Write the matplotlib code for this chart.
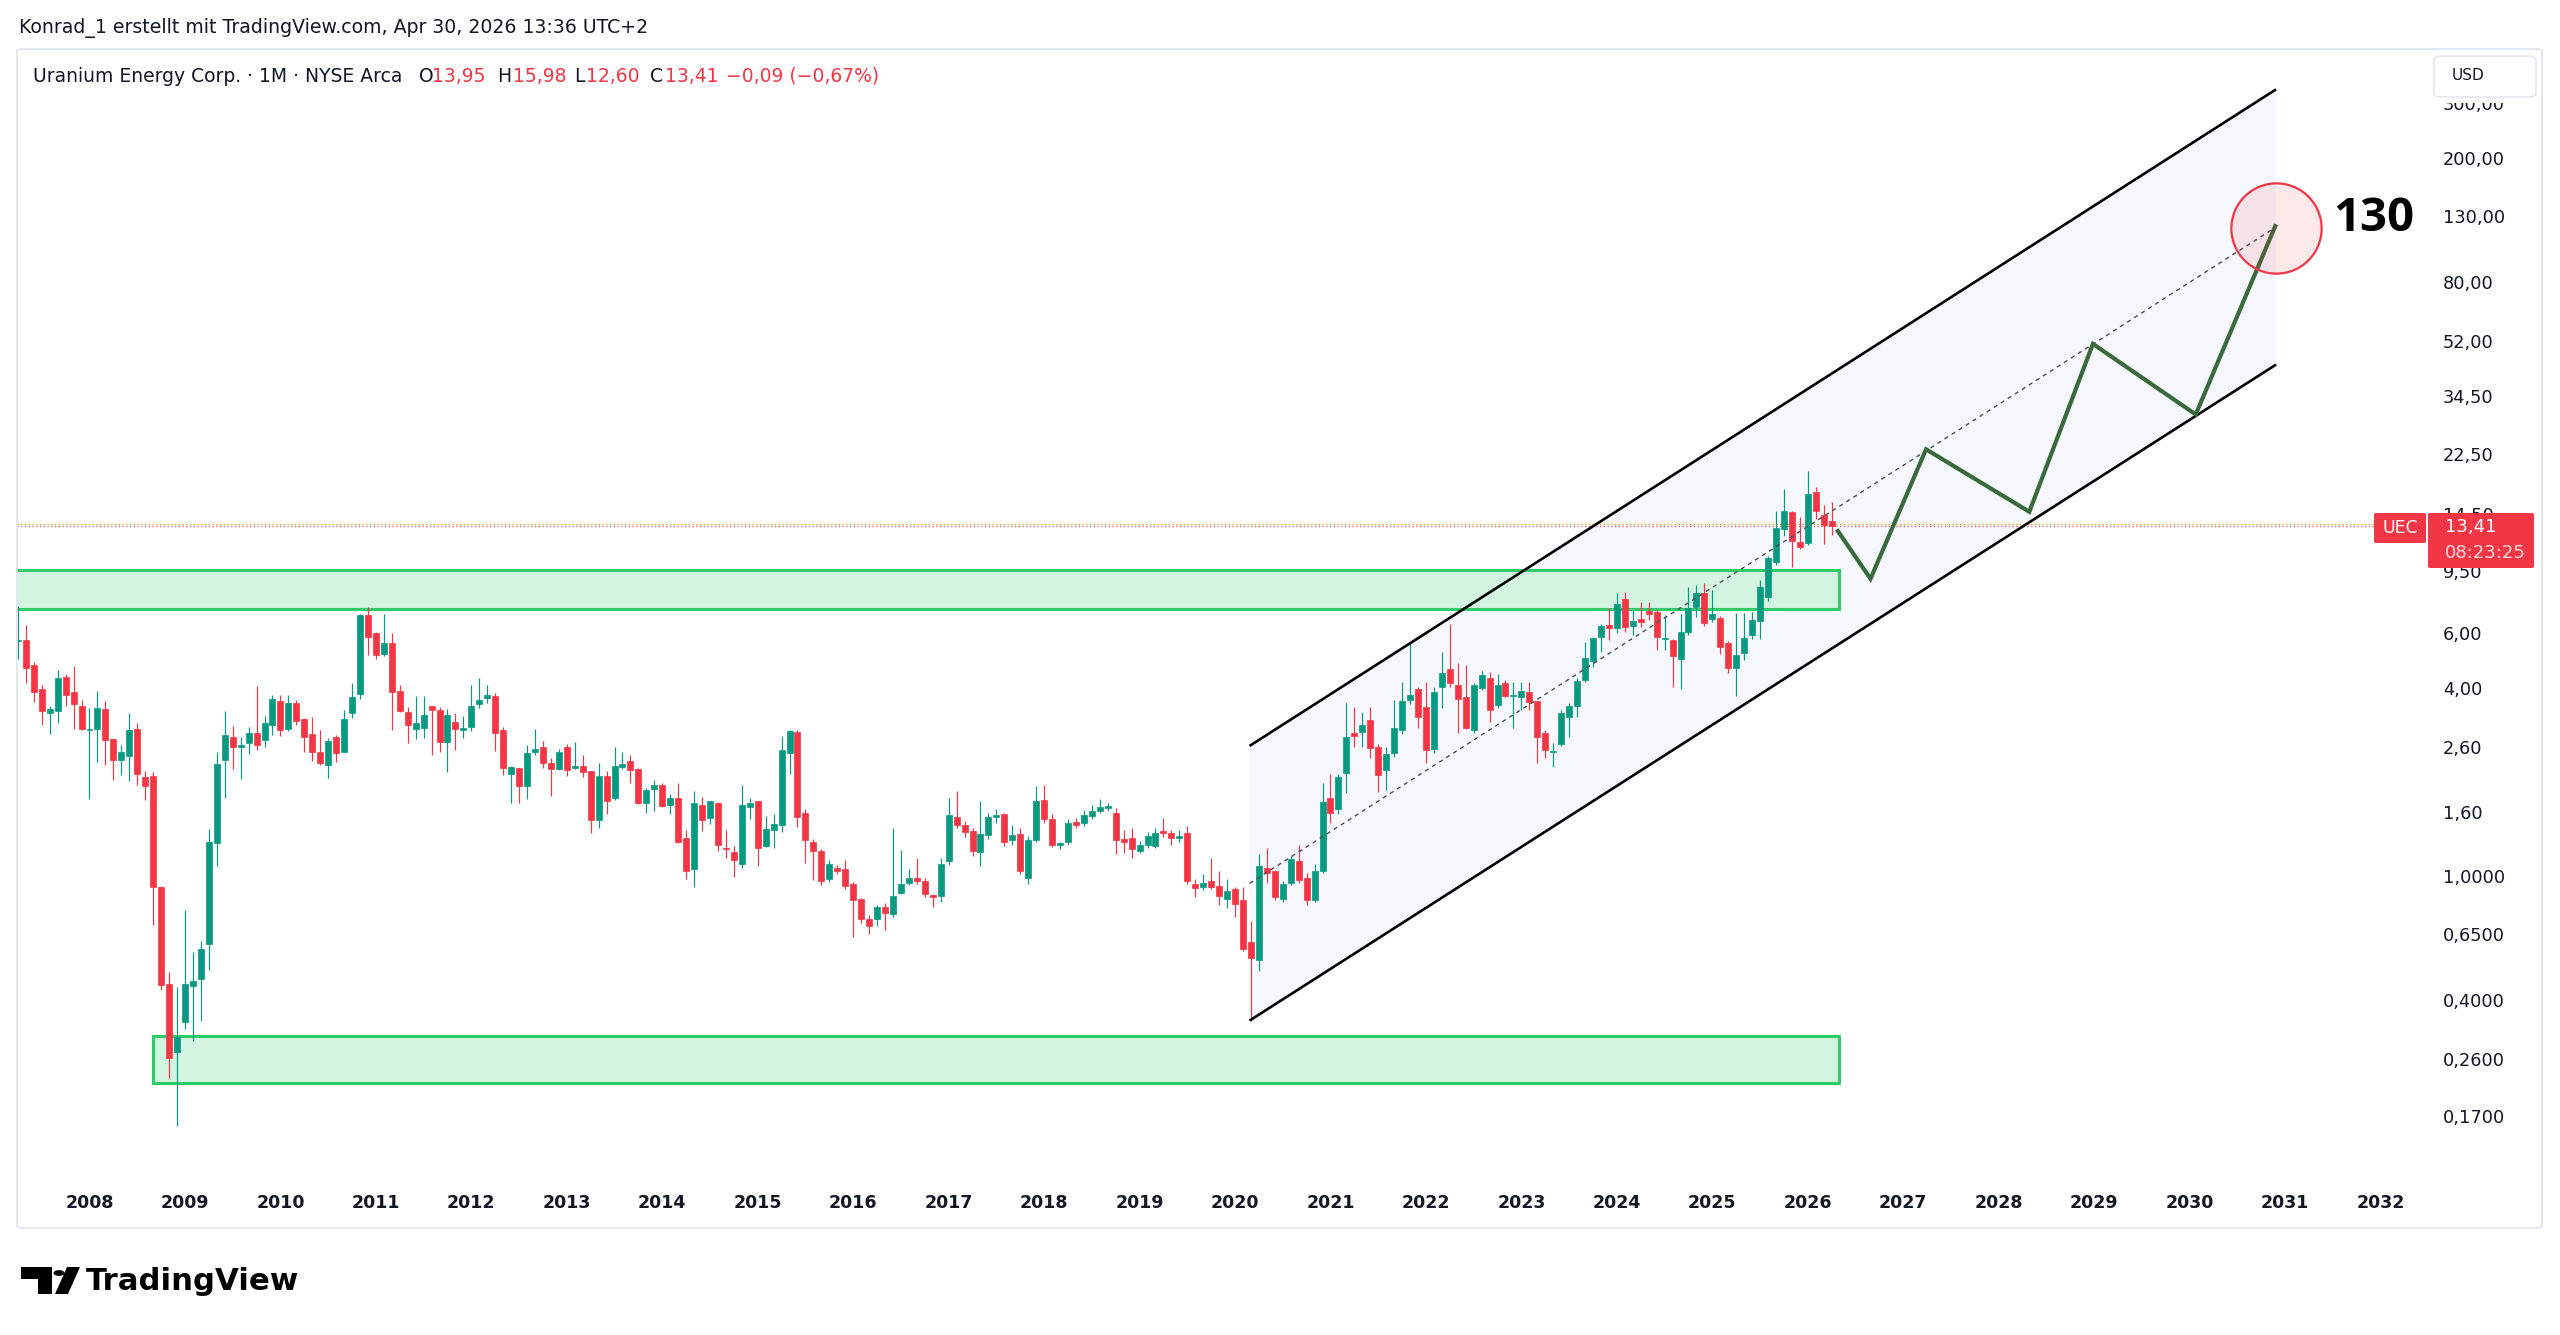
import numpy as np
import matplotlib
matplotlib.use("Agg")
import matplotlib.pyplot as plt
from matplotlib.patches import FancyBboxPatch, Rectangle, Circle, Polygon
from matplotlib.transforms import blended_transform_factory

plt.rcParams['font.family'] = ['DejaVu Sans']

# ---------------- data (monthly candles, first bar = Apr 2007) ----------------
first_month = (2007, 4)
open_ = [5.76, 5.79, 4.81, 4.04, 3.37, 3.42, 4.41, 3.94, 3.56, 2.98,
         3.00, 3.47, 2.78, 2.39, 2.46, 3.01, 2.11, 2.13, 0.934, 0.457,
         0.276, 0.345, 0.452, 0.475, 0.615, 1.29, 2.39, 2.83, 2.63, 2.71,
         2.91, 2.77, 3.10, 3.69, 3.00, 3.65, 3.23, 2.89, 2.53, 2.31,
         2.83, 2.54, 3.38, 3.89, 6.96, 6.08, 5.21, 5.65, 3.97, 3.41,
         3.01, 3.03, 3.55, 3.45, 2.72, 3.17, 2.99, 3.04, 3.60, 3.77,
         3.83, 2.98, 2.15, 2.25, 1.97, 2.54, 2.63, 2.33, 2.23, 2.63,
         2.26, 2.29, 2.20, 1.53, 2.12, 1.80, 2.27, 2.37, 2.23, 1.74,
         1.93, 1.98, 1.71, 1.80, 1.34, 1.07, 1.71, 1.56, 1.74, 1.25,
         1.21, 1.11, 1.69, 1.76, 1.27, 1.43, 1.48, 2.51, 2.94, 1.61,
         1.30, 1.22, 0.995, 1.08, 1.07, 0.955, 0.854, 0.74, 0.739, 0.805,
         0.765, 0.897, 0.966, 1.00, 0.98, 0.882, 0.877, 1.13, 1.57, 1.48,
         1.41, 1.21, 1.37, 1.57, 1.60, 1.32, 1.38, 1.00, 1.32, 1.78,
         1.55, 1.28, 1.30, 1.51, 1.50, 1.58, 1.64, 1.68, 1.61, 1.33,
         1.34, 1.22, 1.28, 1.27, 1.41, 1.39, 1.34, 1.39, 0.96, 0.938,
         0.978, 0.943, 0.856, 0.92, 0.85, 0.625, 0.546, 1.08, 1.05, 0.856,
         0.966, 1.13, 1.00, 0.85, 1.05, 1.80, 1.66, 2.17, 2.91, 2.94,
         3.21, 2.63, 2.22, 2.51, 2.97, 3.72, 4.03, 3.53, 2.59, 4.10,
         4.67, 4.16, 3.79, 2.98, 4.06, 4.37, 3.59, 4.22, 3.84, 3.81,
         3.96, 3.68, 2.92, 2.54, 2.69, 3.28, 3.56, 4.31, 4.96, 5.91,
         6.47, 6.31, 7.82, 6.42, 6.74, 7.19, 7.10, 5.84, 5.79, 5.02,
         6.13, 7.41, 8.19, 6.77, 6.79, 5.65, 4.72, 5.25, 6.00, 6.68,
         7.98, 10.28, 13.13, 14.85, 11.96, 11.83, 17.22, 14.56, 13.95]
high_ = [7.44, 6.47, 4.91, 4.16, 3.56, 4.64, 4.51, 4.78, 3.71, 3.50,
         3.97, 3.69, 2.78, 2.67, 3.38, 3.14, 2.20, 2.18, 0.94, 0.498,
         0.448, 0.788, 0.578, 0.629, 1.44, 2.54, 3.42, 3.08, 2.83, 3.04,
         4.13, 3.30, 3.86, 3.86, 3.86, 3.72, 3.25, 3.27, 2.98, 2.80,
         2.87, 3.46, 4.21, 7.00, 7.41, 6.16, 7.00, 6.12, 4.17, 3.54,
         3.83, 3.83, 3.57, 3.53, 3.49, 3.38, 3.30, 4.17, 4.39, 4.16,
         3.93, 3.04, 2.28, 2.26, 2.67, 3.00, 2.75, 2.42, 2.59, 2.69,
         2.73, 2.47, 2.21, 2.33, 2.20, 2.63, 2.53, 2.47, 2.25, 1.94,
         2.06, 2.01, 1.86, 2.01, 1.42, 1.90, 1.82, 1.77, 1.75, 1.42,
         1.27, 1.98, 1.81, 1.77, 1.58, 1.60, 2.86, 2.97, 2.98, 1.67,
         1.33, 1.24, 1.14, 1.10, 1.14, 0.97, 0.86, 0.76, 0.82, 0.83,
         1.45, 1.23, 1.07, 1.16, 1.00, 0.89, 1.16, 1.80, 1.90, 1.52,
         1.45, 1.76, 1.62, 1.66, 1.62, 1.48, 1.45, 1.36, 1.97, 1.99,
         1.60, 1.30, 1.55, 1.56, 1.65, 1.72, 1.79, 1.74, 1.68, 1.42,
         1.45, 1.31, 1.40, 1.45, 1.56, 1.42, 1.42, 1.47, 0.99, 1.03,
         1.16, 1.05, 0.99, 0.933, 0.935, 0.73, 1.19, 1.25, 1.06, 0.98,
         1.18, 1.28, 1.04, 1.11, 2.01, 2.15, 2.15, 3.65, 3.54, 3.41,
         3.54, 2.69, 2.63, 3.72, 4.26, 5.72, 4.10, 4.26, 4.09, 5.31,
         6.54, 4.88, 4.82, 4.21, 4.61, 4.58, 4.51, 4.31, 4.26, 4.26,
         4.26, 3.70, 2.98, 2.70, 3.46, 3.63, 4.37, 5.72, 5.93, 6.52,
         7.33, 8.19, 8.26, 7.23, 7.68, 7.64, 7.30, 6.97, 5.85, 7.00,
         8.58, 8.70, 8.84, 8.37, 6.90, 5.76, 7.08, 7.05, 7.10, 9.02,
         10.8, 14.97, 17.6, 15.0, 14.34, 20.15, 17.96, 15.69, 15.98]
low_ = [5.02, 4.23, 3.67, 3.10, 2.89, 3.14, 3.57, 3.00, 2.98, 1.79,
        2.35, 2.30, 2.06, 2.14, 2.04, 1.98, 1.78, 0.705, 0.436, 0.228,
        0.160, 0.329, 0.30, 0.348, 0.508, 1.09, 1.81, 2.23, 2.08, 2.49,
        2.57, 2.63, 2.87, 2.86, 2.95, 3.10, 2.54, 2.37, 2.30, 2.09,
        2.36, 2.53, 3.25, 3.74, 5.17, 5.02, 5.15, 2.97, 3.40, 2.71,
        2.79, 2.81, 2.48, 2.54, 2.18, 2.57, 2.81, 2.95, 3.50, 3.63,
        2.56, 2.14, 1.74, 1.74, 1.79, 2.48, 2.25, 1.83, 2.22, 2.12,
        2.23, 2.11, 1.39, 1.45, 1.60, 1.78, 2.23, 2.02, 1.73, 1.61,
        1.64, 1.69, 1.60, 1.29, 0.99, 0.938, 1.41, 1.49, 1.22, 1.16,
        1.01, 1.08, 1.55, 1.09, 1.26, 1.25, 1.40, 2.15, 1.46, 1.12,
        0.985, 0.95, 0.97, 1.03, 0.92, 0.645, 0.72, 0.66, 0.70, 0.68,
        0.75, 0.89, 0.95, 0.96, 0.87, 0.805, 0.839, 1.10, 1.45, 1.35,
        1.18, 1.09, 1.33, 1.50, 1.27, 1.28, 1.03, 0.96, 1.30, 1.50,
        1.26, 1.24, 1.28, 1.45, 1.47, 1.55, 1.62, 1.64, 1.19, 1.20,
        1.16, 1.20, 1.25, 1.25, 1.35, 1.28, 1.30, 0.96, 0.87, 0.915,
        0.92, 0.82, 0.80, 0.748, 0.583, 0.349, 0.503, 0.966, 0.85, 0.84,
        0.95, 0.966, 0.82, 0.84, 1.04, 1.50, 1.60, 1.87, 2.63, 2.63,
        2.42, 1.88, 1.92, 2.45, 2.90, 3.60, 3.02, 2.33, 2.51, 3.50,
        4.10, 2.92, 3.00, 2.91, 4.00, 3.17, 3.50, 3.80, 3.02, 3.46,
        3.46, 2.34, 2.42, 2.27, 2.65, 2.84, 3.28, 4.25, 4.76, 5.31,
        5.79, 6.08, 6.16, 6.00, 6.39, 6.71, 5.38, 5.38, 4.08, 4.03,
        6.00, 6.84, 6.40, 6.60, 5.22, 4.55, 3.83, 4.99, 5.83, 5.83,
        7.72, 10.09, 12.5, 9.96, 11.3, 11.7, 14.19, 11.8, 12.60]
close_ = [5.80, 4.70, 3.95, 3.42, 3.47, 4.37, 3.86, 3.60, 3.00, 3.01,
          3.50, 2.77, 2.39, 2.53, 2.98, 2.16, 1.97, 0.934, 0.455, 0.265,
          0.309, 0.457, 0.467, 0.594, 1.30, 2.32, 2.87, 2.63, 2.66, 2.91,
          2.66, 3.15, 3.76, 2.97, 3.63, 3.19, 2.83, 2.53, 2.33, 2.75,
          2.51, 3.23, 3.81, 6.97, 5.94, 5.18, 5.65, 3.95, 3.42, 3.10,
          3.13, 3.33, 3.45, 2.72, 3.33, 3.01, 3.02, 3.57, 3.72, 3.86,
          2.91, 2.26, 2.27, 1.97, 2.52, 2.59, 2.33, 2.23, 2.54, 2.22,
          2.29, 2.18, 1.53, 2.12, 1.77, 2.29, 2.32, 2.22, 1.74, 1.92,
          1.98, 1.70, 1.81, 1.30, 1.05, 1.74, 1.53, 1.76, 1.28, 1.24,
          1.14, 1.72, 1.74, 1.25, 1.44, 1.49, 2.57, 2.96, 1.57, 1.32,
          1.22, 0.98, 1.11, 1.05, 0.94, 0.85, 0.739, 0.70, 0.805, 0.77,
          0.875, 0.957, 1.00, 0.98, 0.886, 0.867, 1.11, 1.59, 1.48, 1.40,
          1.22, 1.38, 1.57, 1.59, 1.30, 1.37, 1.05, 1.32, 1.76, 1.55,
          1.28, 1.29, 1.50, 1.48, 1.59, 1.64, 1.69, 1.70, 1.32, 1.30,
          1.24, 1.28, 1.36, 1.39, 1.39, 1.34, 1.36, 0.978, 0.926, 0.966,
          0.938, 0.875, 0.908, 0.825, 0.592, 0.553, 1.09, 1.04, 0.867, 0.96,
          1.15, 0.985, 0.85, 1.05, 1.75, 1.61, 2.10, 2.84, 2.85, 3.10,
          2.61, 2.14, 2.49, 3.02, 3.69, 3.86, 3.28, 2.57, 3.96, 4.55,
          4.21, 3.75, 3.02, 4.16, 4.47, 3.46, 4.16, 3.84, 3.86, 3.97,
          3.66, 2.84, 2.57, 2.56, 3.37, 3.56, 4.29, 5.08, 5.86, 6.43,
          6.31, 7.57, 6.36, 6.66, 6.63, 7.01, 5.93, 5.88, 5.16, 6.13,
          7.33, 8.19, 6.58, 7.01, 5.51, 4.72, 5.18, 5.88, 6.71, 8.58,
          10.59, 13.20, 15.06, 12.05, 11.50, 16.98, 15.06, 13.50, 13.41]

year_labels = list(range(2008, 2033))
price_ticks = [300, 200, 130, 80, 52, 34.5, 22.5, 14.5, 9.5, 6, 4, 2.6, 1.6,
               1.0, 0.65, 0.4, 0.26, 0.17]

# drawings (time in decimal years, price in USD)
channel_time = [2020.152, 2030.905]
channel_upper = [2.65, 337.0]
channel_mid = [0.961, 122.0]
channel_lower = [0.349, 44.2]
zone_top = (7.28, 9.71)
zone_bottom = (0.22, 0.3124)
zone_top_time = 2026.327
zone_bottom_time = (2008.665, 2026.327)
path_time = [2026.303, 2026.657, 2027.239, 2028.321, 2028.987, 2030.064, 2030.905]
path_price = [13.11, 9.10, 23.66, 14.92, 51.5, 30.6, 124.5]
target_time, target_price = 2030.905, 121.3
target_label = "130"
last_price, prev_close = 13.41, 13.60

# ---------------- figure ----------------
W, H = 2560, 1335
fig = plt.figure(figsize=(W / 100, H / 100), dpi=100)
fig.patch.set_facecolor('white')
renderer = fig.canvas.get_renderer()

GREEN = '#089981'
RED = '#f23645'
TXT = '#131722'

AX_L, AX_R, AX_T, AX_B = 17, 2433, 50, 1180
PX0, PXY = 89.5, 95.46          # pixel of Jan 2008, pixels per year
PY1, PYD = 878.0, 312.0         # pixel of price 1.0, pixels per decade

ax = fig.add_axes([AX_L / W, 1 - AX_B / H, (AX_R - AX_L) / W, (AX_B - AX_T) / H])
ax.set_yscale('log')
x_left = 2008 + (AX_L - PX0) / PXY
x_right = 2008 + (AX_R - PX0) / PXY
ax.set_xlim(x_left, x_right)
ax.set_ylim(10 ** ((PY1 - AX_B) / PYD), 10 ** ((PY1 - AX_T) / PYD))
ax.axis('off')

def fx(px):
    return px / W

def fy(py):
    return 1 - py / H

# outer chart frame
fig.patches.append(FancyBboxPatch((fx(17), fy(1228)), (2542 - 17) / W, (1228 - 49) / H,
                                  boxstyle="round,pad=0,rounding_size=0.002",
                                  transform=fig.transFigure, fill=False,
                                  edgecolor='#e0e3eb', linewidth=1.2, zorder=0))

# channel
cx = channel_time
ax.fill([cx[0], cx[1], cx[1], cx[0]],
        [channel_lower[0], channel_lower[1], channel_upper[1], channel_upper[0]],
        color='#f6f8fe', zorder=1, linewidth=0)
ax.plot(cx, channel_upper, color='black', lw=1.9, zorder=6, solid_capstyle='butt')
ax.plot(cx, channel_lower, color='black', lw=1.9, zorder=6, solid_capstyle='butt')
ax.plot(cx, channel_mid, color='#4a4d57', lw=1.0, ls=(0, (3, 3)), zorder=6)

# zones
for (x0, x1), (y0, y1) in [((x_left - 0.05, zone_top_time), zone_top),
                           (zone_bottom_time, zone_bottom)]:
    ax.add_patch(Rectangle((x0, y0), x1 - x0, y1 - y0, facecolor='#d3f4e0',
                           edgecolor='#2fcb6a', linewidth=2.2, zorder=2))

# price lines
ax.axhline(prev_close, color='#ff9800', lw=0.9, ls=(0, (1, 2)), zorder=2)
ax.axhline(last_price, color=RED, lw=0.9, ls=(0, (1, 2)), zorder=2, alpha=0.8)

# candles
o = np.array(open_); h = np.array(high_); l = np.array(low_); c = np.array(close_)
n = len(o)
t = first_month[0] + (first_month[1] - 1) / 12 + np.arange(n) / 12
cols = np.where(c >= o, GREEN, RED)
ax.vlines(t, l, h, colors=cols, linewidth=0.85, zorder=4)
bot = np.minimum(o, c); top = np.maximum(o, c)
ax.bar(t, top - bot, bottom=bot, width=6 / PXY, color=cols, edgecolor=cols,
       linewidth=0.5, zorder=5)

# projection path + target
ax.plot(path_time, path_price, color='#386a3b', lw=3.0, zorder=7,
        solid_joinstyle='miter', solid_capstyle='butt')
ax.plot([target_time], [target_price], marker='o', markersize=65,
        markerfacecolor=(0.949, 0.212, 0.271, 0.11), markeredgecolor=RED,
        markeredgewidth=1.6, zorder=8)
ax.text(2031.50, 129.5, target_label, fontsize=34, fontweight='bold',
        family=['Open Sans', 'DejaVu Sans'], color='black', va='center',
        ha='left', zorder=9)

# y tick labels (right price scale)
bt = blended_transform_factory(ax.transAxes, ax.transData)
for v in price_ticks:
    s = (f"{v:.2f}" if v >= 1.5 else f"{v:.4f}").replace('.', ',')
    ax.text((2443 - AX_L) / (AX_R - AX_L), v, s, transform=bt, fontsize=12.8,
            color=TXT, va='center', ha='left', clip_on=False)

# x tick labels
bx = blended_transform_factory(ax.transData, ax.transAxes)
for yv in year_labels:
    ax.text(yv, (AX_B - 1203) / (AX_B - AX_T), str(yv), transform=bx, fontsize=12.5,
            fontweight='bold', color=TXT, ha='center', va='center', clip_on=False)

def fit(px, py, s, width, size=12, **kw):
    tt = fig.text(fx(px), fy(py), s, fontsize=size, va='center', ha='left', **kw)
    w = tt.get_window_extent(renderer=renderer).width
    tt.set_fontsize(size * width / w)
    return tt

# header
fit(19, 28, "Konrad_1 erstellt mit TradingView.com, Apr 30, 2026 13:36 UTC+2", 625,
    color=TXT)
hdr = fit(33, 76, "Uranium Energy Corp. · 1M · NYSE Arca", 367, color=TXT)
hs = hdr.get_fontsize()
for px, s, col in [(418.5, "O", TXT), (431.7, "13,95", RED), (497, "H", TXT),
                   (512.6, "15,98", RED), (574.6, "L", TXT), (585.5, "12,60", RED),
                   (650.4, "C", TXT), (664.8, "13,41", RED),
                   (726, "\u22120,09 (\u22120,67%)", RED)]:
    fig.text(fx(px), fy(76), s, fontsize=hs, color=col, va='center', ha='left')

# top of price scale is clipped under the currency button
fig.patches.append(Rectangle((fx(2436), fy(103)), 100 / W, 50 / H,
                             transform=fig.transFigure, facecolor='white',
                             edgecolor='none', zorder=4))
fig.patches.append(FancyBboxPatch((fx(2434), fy(97)), 102 / W, 41 / H,
                                  boxstyle="round,pad=0,rounding_size=0.003",
                                  transform=fig.transFigure, facecolor='white',
                                  edgecolor='#e0e3eb', linewidth=1.0, zorder=5))
fig.text(fx(2452), fy(76), "USD", fontsize=11, color=TXT, va='center', ha='left',
         zorder=6)

# last price tags
fig.patches.append(FancyBboxPatch((fx(2374), fy(543)), 52 / W, 30 / H,
                                  boxstyle="round,pad=0,rounding_size=0.001",
                                  transform=fig.transFigure, facecolor=RED,
                                  edgecolor='none', zorder=5))
fig.text(fx(2400), fy(528), "UEC", fontsize=12.5, color='white', va='center',
         ha='center', zorder=6)
fig.patches.append(FancyBboxPatch((fx(2428), fy(568)), 106 / W, 55 / H,
                                  boxstyle="round,pad=0,rounding_size=0.001",
                                  transform=fig.transFigure, facecolor=RED,
                                  edgecolor='none', zorder=5))
fig.text(fx(2445), fy(527), "13,41", fontsize=13, color='white', va='center',
         ha='left', zorder=6)
fig.text(fx(2445), fy(553), "08:23:25", fontsize=13, color='#ffdadd', va='center',
         ha='left', zorder=6)

# TradingView logo
logo_T = [(21, 1267), (52, 1267), (52, 1294), (38, 1294), (38, 1279), (21, 1279)]
fig.patches.append(Polygon([(fx(a), fy(b)) for a, b in logo_T], closed=True,
                           transform=fig.transFigure, facecolor='black',
                           edgecolor='none'))
fig.patches.append(Circle((fx(59), fy(1273)), 5.5 / W, transform=fig.transFigure,
                          facecolor='black', edgecolor='none'))
logo_S = [(67, 1267), (80, 1267), (68, 1294), (55, 1294)]
fig.patches.append(Polygon([(fx(a), fy(b)) for a, b in logo_S], closed=True,
                           transform=fig.transFigure, facecolor='black',
                           edgecolor='none'))
fit(86, 1281, "TradingView", 212, size=22, color='black', fontweight='bold')

fig.savefig("out.png", dpi=100, facecolor='white')
